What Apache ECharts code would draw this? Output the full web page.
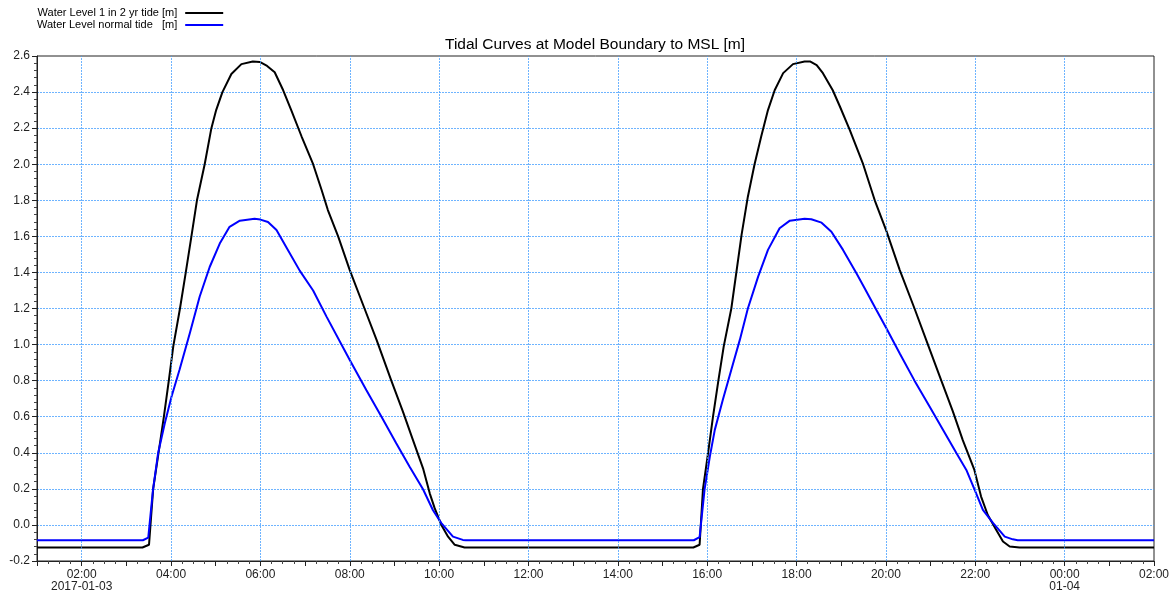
<!DOCTYPE html>
<html>
<head>
<meta charset="utf-8">
<script src="https://cdn.jsdelivr.net/npm/echarts@6/dist/echarts.min.js"></script>
<style>
html,body{margin:0;padding:0;background:#fff;}
#chart{width:1174px;height:594px;}
</style>
</head>
<body>
<div id="chart"></div>
<script>
// Hours since 2017-01-03 00:00
const hours2yr = [1.0, 3.36, 3.507, 3.60, 3.72, 3.84, 3.95, 4.05, 4.20, 4.33, 4.456, 4.58, 4.753, 4.903, 5.01, 5.15, 5.35, 5.575, 5.83, 5.985, 6.15, 6.32, 6.51, 6.69, 6.92, 7.18, 7.37, 7.51, 7.74, 8.00, 8.33, 8.60, 8.93, 9.19, 9.415, 9.64, 9.79, 9.90, 10.05, 10.2, 10.35, 10.57, 15.69, 15.83, 15.905, 16.02, 16.13, 16.25, 16.37, 16.54, 16.77, 16.91, 17.06, 17.21, 17.36, 17.51, 17.70, 17.92, 18.18, 18.30, 18.45, 18.59, 18.81, 18.97, 19.19, 19.49, 19.75, 20.01, 20.31, 20.64, 20.94, 21.24, 21.50, 21.72, 21.98, 22.13, 22.28, 22.47, 22.62, 22.77, 22.99, 26.0];
const level2yr = [-0.125, -0.125, -0.11, 0.20, 0.40, 0.60, 0.80, 0.99, 1.20, 1.40, 1.60, 1.80, 2.00, 2.20, 2.30, 2.40, 2.50, 2.555, 2.57, 2.567, 2.545, 2.51, 2.41, 2.30, 2.155, 2.00, 1.857, 1.746, 1.60, 1.413, 1.20, 1.026, 0.80, 0.628, 0.47, 0.314, 0.175, 0.093, 0.0, -0.065, -0.11, -0.125, -0.125, -0.11, 0.198, 0.40, 0.60, 0.80, 0.99, 1.20, 1.61, 1.82, 2.00, 2.155, 2.30, 2.41, 2.505, 2.555, 2.57, 2.57, 2.55, 2.505, 2.41, 2.32, 2.19, 2.00, 1.80, 1.63, 1.413, 1.20, 1.0, 0.80, 0.628, 0.47, 0.305, 0.157, 0.055, -0.028, -0.092, -0.12, -0.125, -0.125];

const hoursNormal = [1.0, 3.37, 3.49, 3.596, 3.71, 3.86, 4.01, 4.19, 4.42, 4.64, 4.865, 5.09, 5.31, 5.54, 5.87, 6.0, 6.17, 6.36, 6.58, 6.88, 7.18, 7.48, 8.00, 8.37, 8.71, 9.04, 9.34, 9.64, 9.86, 10.05, 10.31, 10.53, 10.6, 15.70, 15.83, 15.94, 16.06, 16.17, 16.35, 16.54, 16.73, 16.91, 17.14, 17.36, 17.62, 17.85, 18.18, 18.33, 18.56, 18.78, 19.04, 19.34, 19.53, 19.79, 20.01, 20.31, 20.64, 20.98, 21.28, 21.58, 21.80, 21.98, 22.17, 22.40, 22.66, 22.84, 22.95, 26.0];
const levelNormal = [-0.085, -0.085, -0.07, 0.194, 0.397, 0.564, 0.711, 0.86, 1.063, 1.265, 1.43, 1.56, 1.653, 1.687, 1.697, 1.693, 1.68, 1.635, 1.54, 1.41, 1.30, 1.155, 0.914, 0.748, 0.60, 0.453, 0.323, 0.198, 0.083, 0.01, -0.065, -0.083, -0.085, -0.085, -0.068, 0.194, 0.38, 0.527, 0.694, 0.86, 1.026, 1.20, 1.377, 1.525, 1.645, 1.687, 1.697, 1.695, 1.676, 1.626, 1.525, 1.395, 1.31, 1.19, 1.09, 0.95, 0.80, 0.655, 0.527, 0.397, 0.305, 0.198, 0.083, 0.01, -0.065, -0.08, -0.085, -0.085];

const xMinHour = 1;
const xMaxHour = 26;
const gridHours = [2, 4, 6, 8, 10, 12, 14, 16, 18, 20, 22, 24];
const dateLabels = {2: '2017-01-03', 24: '01-04'};
const seriesNames = ['Water Level 1 in 2 yr tide [m]', 'Water Level normal tide   [m]'];
const titleText = 'Tidal Curves at Model Boundary to MSL [m]';

const FONT = "'Liberation Sans', Arial, sans-serif";
const GRID_COLOR = '#3d9bff';
const GRID_DASH = [2, 1];

function pairs(xs, ys) { return xs.map((x, i) => [x, ys[i]]); }
function pad(n) { return (n < 10 ? '0' : '') + n; }

const chart = echarts.init(document.getElementById('chart'), null, {renderer: 'canvas'});
chart.setOption({
  animation: false,
  backgroundColor: '#ffffff',
  title: {
    text: titleText,
    left: 445,
    top: 37,
    padding: 0,
    textStyle: {fontFamily: FONT, fontSize: 15.5, fontWeight: 'normal', color: '#000'}
  },
  legend: {
    orient: 'vertical',
    left: 37,
    top: 7,
    padding: 0,
    itemGap: 0,
    align: 'right',
    itemWidth: 38,
    itemHeight: 2,
    icon: 'rect',
    data: seriesNames,
    textStyle: {fontFamily: FONT, fontSize: 11, color: '#000', lineHeight: 12, padding: [0, 3, 0, 0]}
  },
  grid: {
    left: 37, right: 20, top: 56, bottom: 33,
    show: true, borderColor: '#222', borderWidth: 1,
    containLabel: false,
    outerBoundsMode: 'none'
  },
  xAxis: {
    type: 'value',
    min: xMinHour,
    max: xMaxHour,
    interval: 1,
    axisLine: {show: true, onZero: false, lineStyle: {color: '#222', width: 1}},
    axisTick: {show: true, length: 5, lineStyle: {color: '#222'}},
    minorTick: {show: true, splitNumber: 4, length: 3, lineStyle: {color: '#444'}},
    splitLine: {show: false},
    axisLabel: {
      margin: 8,
      fontFamily: FONT, fontSize: 12, color: '#222', lineHeight: 12,
      showMinLabel: true, showMaxLabel: true,
      formatter: function (v) {
        const h = Math.round(v);
        if (h % 2 !== 0) return '';
        let s = pad(h % 24) + ':00';
        if (dateLabels[h]) s += '\n' + dateLabels[h];
        return s;
      }
    }
  },
  yAxis: {
    type: 'value',
    min: -0.2,
    max: 2.6,
    interval: 0.2,
    axisLine: {show: true, lineStyle: {color: '#222', width: 1}},
    axisTick: {show: true, length: 5, lineStyle: {color: '#222'}},
    minorTick: {show: true, splitNumber: 5, length: 3, lineStyle: {color: '#444'}},
    splitLine: {show: true, showMinLine: false, showMaxLine: false,
      lineStyle: {color: GRID_COLOR, type: GRID_DASH, width: 1, opacity: 0.75}},
    axisLabel: {
      margin: 7,
      fontFamily: FONT, fontSize: 12, color: '#222',
      formatter: function (v) { return (Math.round(v * 10) / 10).toFixed(1); }
    }
  },
  series: [
    {
      name: 'grid',
      type: 'line',
      data: [],
      z: 1,
      silent: true,
      markLine: {
        silent: true,
        symbol: ['none', 'none'],
        label: {show: false},
        lineStyle: {color: GRID_COLOR, type: GRID_DASH, width: 1, opacity: 0.75},
        emphasis: {disabled: true},
        animation: false,
        data: gridHours.map(h => ({xAxis: h}))
      }
    },
    {
      name: seriesNames[0],
      type: 'line',
      z: 3,
      data: pairs(hours2yr, level2yr),
      showSymbol: false,
      symbol: 'none',
      color: '#000000',
      lineStyle: {color: '#000000', width: 2},
      itemStyle: {color: '#000000'}
    },
    {
      name: seriesNames[1],
      type: 'line',
      z: 4,
      data: pairs(hoursNormal, levelNormal),
      showSymbol: false,
      symbol: 'none',
      color: '#0000ff',
      lineStyle: {color: '#0000ff', width: 2},
      itemStyle: {color: '#0000ff'}
    }
  ]
});
</script>
</body>
</html>
